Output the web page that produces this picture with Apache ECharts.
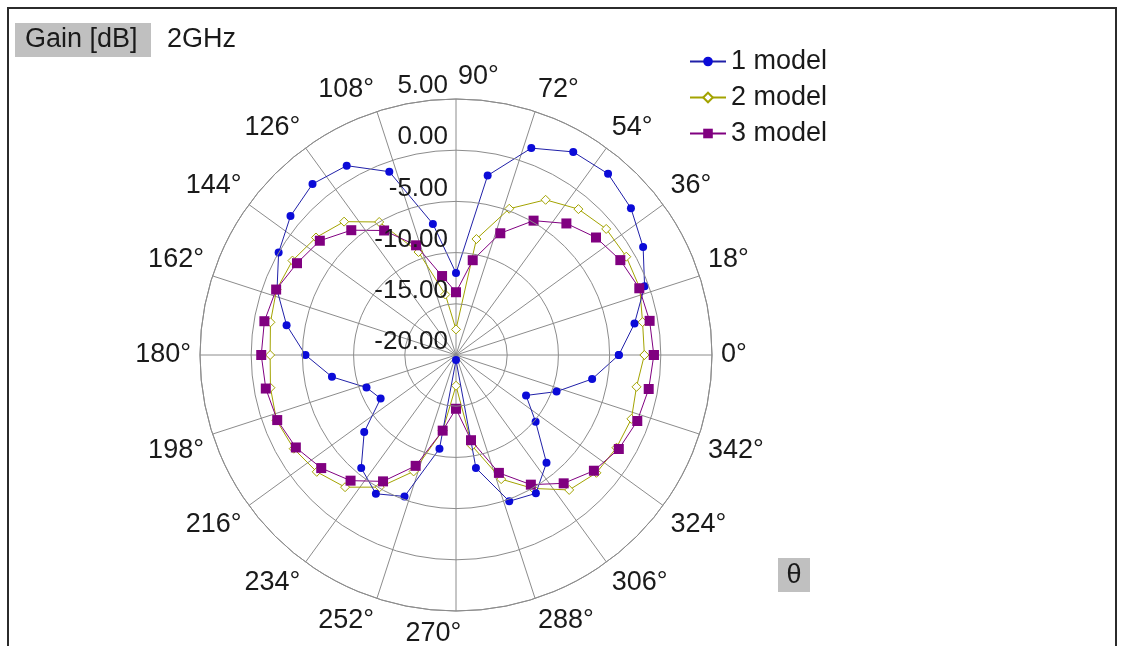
<!DOCTYPE html>
<html><head><meta charset="utf-8">
<script src="https://cdn.jsdelivr.net/npm/echarts@6/dist/echarts.min.js"></script>
<style>html,body{margin:0;padding:0;background:#fff}#c{width:1123px;height:646px}</style>
</head><body><div id="c"></div>
<script>
// angle of each sample (degrees)
const angles = [0,10,20,30,40,50,60,70,80,90,100,110,120,130,140,150,160,170,180,190,200,210,220,230,240,250,260,270,280,290,300,310,320,330,340,350];
// gain values in dB
const model1 = [-4.1,-2.3,-0.4,1.1,2.3,3.1,2.9,1.5,-2.2,-12.0,-7.0,-0.95,1.35,1.8,1.1,0.0,-1.4,-3.2,-5.3,-7.7,-10.7,-11.5,-8.3,-5.6,-4.35,-5.3,-10.7,-19.5,-8.8,-4.8,-4.4,-6.25,-9.85,-12.1,-9.55,-6.5];
const model2 = [-1.6,-1.5,-0.9,-0.8,-0.85,-1.4,-2.5,-4.8,-8.5,-17.5,-14.0,-9.3,-5.0,-3.0,-2.15,-1.56,-1.35,-1.6,-1.85,-1.6,-1.35,-1.7,-2.25,-3.15,-5.1,-7.9,-12.5,-17.0,-11.0,-7.1,-4.95,-2.8,-2.1,-1.9,-1.77,-2.1];
const model3 = [-0.68,-0.8,-0.95,-1.47,-2.15,-3.23,-4.85,-7.35,-10.6,-13.87,-12.17,-8.6,-5.96,-4.09,-2.64,-2.07,-1.31,-1.0,-0.98,-1.14,-1.42,-1.94,-2.82,-3.98,-5.75,-8.48,-12.5,-14.75,-11.55,-7.75,-5.38,-3.64,-2.42,-1.64,-1.16,-0.89];
const seriesNames = ['1 model','2 model','3 model'];
const radialMin = -20, radialMax = 5, radialStep = 5;
const angleStep = 18;
const titleText = 'Gain [dB]';
const freqText = '2GHz';
const thetaText = 'θ';

const FONT = "'Liberation Sans', Arial, sans-serif";
const TXT = '#1a1a1a';

// angle axis runs from the top (90°) counter-clockwise: value v sits at θ = v + 90
function toData(vals) {
  const d = angles.map((a, i) => [vals[i], (a - 90 + 360) % 360]);
  d.push(d[0]);
  return d;
}

const chart = echarts.init(document.getElementById('c'), null, {renderer: 'canvas'});
chart.setOption({
  animation: false,
  backgroundColor: '#fff',
  textStyle: {fontFamily: FONT},
  polar: {center: [456, 355], radius: 256},
  angleAxis: {
    type: 'value', min: 0, max: 360, interval: angleStep,
    startAngle: 90, clockwise: false,
    axisLine: {show: true, lineStyle: {color: '#8c8c8c', width: 1}},
    axisTick: {show: false},
    splitLine: {show: true, lineStyle: {color: '#8c8c8c', width: 1}},
    axisLabel: {
      margin: 9, color: TXT, fontSize: 27, fontFamily: FONT,
      formatter: function (v) {
        if (v >= 360) return '';
        const t = (v + 90) % 360;
        if (t === 90) return '      ' + t + '°';
        if (t === 270) return t + '°      ';
        return t + '°';
      }
    }
  },
  radiusAxis: {
    type: 'value', min: radialMin, max: radialMax, interval: radialStep,
    axisLine: {show: false},
    axisTick: {show: false},
    splitLine: {show: true, lineStyle: {color: '#8c8c8c', width: 1}},
    axisLabel: {
      color: TXT, fontSize: 26, fontFamily: FONT, margin: 8,
      verticalAlign: 'bottom',
      formatter: v => v.toFixed(2)
    },
    z: 10
  },
  legend: {
    left: 684, top: 43, orient: 'vertical', itemGap: 9,
    itemWidth: 36, itemHeight: 12,
    textStyle: {fontSize: 27, color: TXT, fontFamily: FONT},
    data: seriesNames
  },
  graphic: [
    {type: 'rect', shape: {x: 8, y: 8, width: 1108, height: 700}, style: {fill: 'none', stroke: '#2b2b2b', lineWidth: 2}, z: 100},
    {type: 'rect', shape: {x: 15, y: 23, width: 136, height: 34}, style: {fill: '#c0c0c0'}},
    {type: 'text', x: 25, y: 40, style: {text: titleText, font: '27px ' + FONT, fill: TXT, verticalAlign: 'middle'}},
    {type: 'text', x: 167, y: 40, style: {text: freqText, font: '27px ' + FONT, fill: TXT, verticalAlign: 'middle'}},
    {type: 'rect', shape: {x: 778, y: 558, width: 32, height: 34}, style: {fill: '#c0c0c0'}},
    {type: 'text', x: 794, y: 576, style: {text: thetaText, font: '27px ' + FONT, fill: TXT, align: 'center', verticalAlign: 'middle'}}
  ],
  series: [
    {name: seriesNames[0], type: 'line', coordinateSystem: 'polar', data: toData(model1),
     symbol: 'circle', symbolSize: 8, itemStyle: {color: '#0b0bd8'},
     lineStyle: {color: '#2020a8', width: 1}, z: 3},
    {name: seriesNames[1], type: 'line', coordinateSystem: 'polar', data: toData(model2),
     symbol: 'diamond', symbolSize: 9, itemStyle: {color: '#ffffff', borderColor: '#a3a300', borderWidth: 1},
     lineStyle: {color: '#a3a300', width: 1}, z: 2},
    {name: seriesNames[2], type: 'line', coordinateSystem: 'polar', data: toData(model3),
     symbol: 'rect', symbolSize: 10, itemStyle: {color: '#800080'},
     lineStyle: {color: '#800080', width: 1}, z: 4}
  ]
});
</script></body></html>
